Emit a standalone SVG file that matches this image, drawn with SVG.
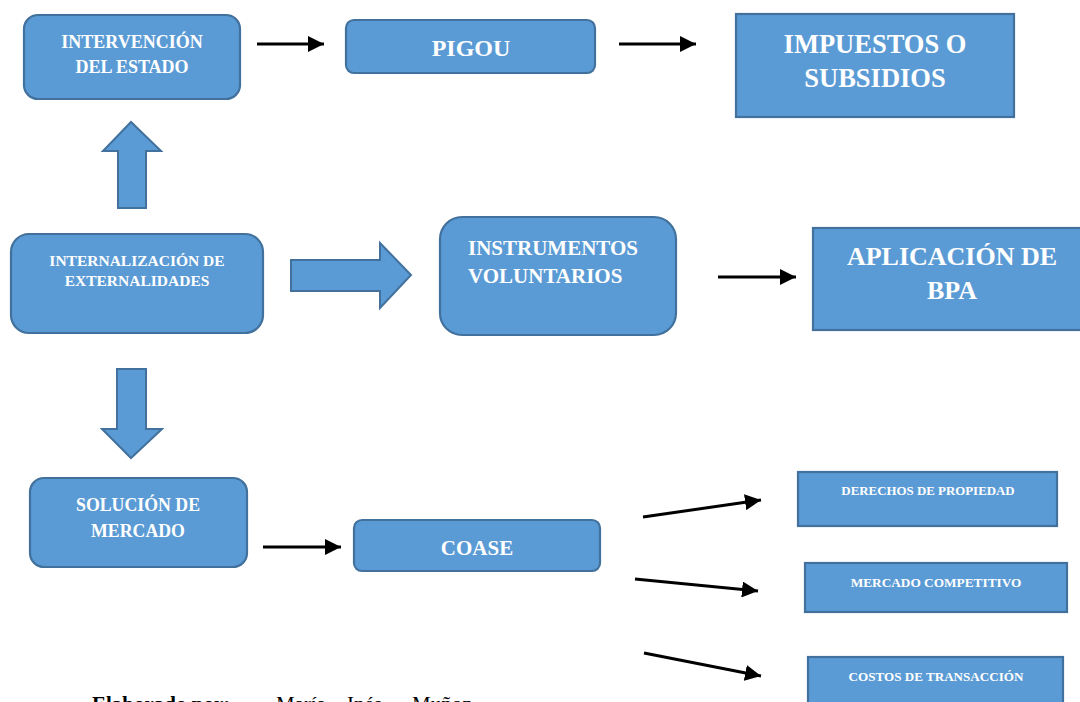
<svg xmlns="http://www.w3.org/2000/svg" width="1080" height="702" viewBox="0 0 1080 702">
<defs>
<style>
.box{fill:#5B9BD5;stroke:#41719C;stroke-width:2.2}
.t{font-family:"Liberation Serif","Times New Roman",serif;font-weight:bold;fill:#FFFFFF;text-anchor:middle}
.tl{font-family:"Liberation Serif","Times New Roman",serif;font-weight:bold;fill:#FFFFFF}
.ln{stroke:#000000;stroke-width:3;fill:none;marker-end:url(#ah)}
.blk{fill:#5B9BD5;stroke:#41719C;stroke-width:2}
.cap{font-family:"Liberation Serif","Times New Roman",serif;fill:#000000;font-size:21px}
</style>
<marker id="ah" markerUnits="userSpaceOnUse" markerWidth="17" markerHeight="16" refX="16" refY="8" orient="auto">
<path d="M0,0 L16,8 L0,16 Z" fill="#000000"/>
</marker>
</defs>
<rect width="1080" height="702" fill="#FFFFFF"/>

<g id="connectors">
<line class="ln" x1="257" y1="44" x2="324" y2="44"/>
<line class="ln" x1="619" y1="44" x2="696" y2="44"/>
<line class="ln" x1="718" y1="277" x2="796" y2="277"/>
<line class="ln" x1="263" y1="547" x2="341" y2="547"/>
<line class="ln" x1="643" y1="517" x2="761" y2="500"/>
<line class="ln" x1="635" y1="579" x2="758" y2="591"/>
<line class="ln" x1="644" y1="653" x2="761" y2="676"/>
<path class="blk" d="M118,208 L118,151 L103,151 L131,122 L161,151 L146,151 L146,208 Z"/>
<path class="blk" d="M117,369 L146,369 L146,429 L162,429 L131,458 L102,429 L117,429 Z"/>
<path class="blk" d="M291,260 L380,260 L380,243 L411,275 L380,308 L380,291 L291,291 Z"/>
</g>

<g id="n-intervencion">
<rect class="box" x="24" y="15" width="216" height="84" rx="14"/>
<text class="t" x="132" y="48" font-size="18">INTERVENCIÓN</text>
<text class="t" x="132" y="73" font-size="18">DEL ESTADO</text>
</g>
<g id="n-pigou">
<rect class="box" x="346" y="20" width="249" height="53" rx="8"/>
<text class="t" x="471" y="56" font-size="24">PIGOU</text>
</g>
<g id="n-impuestos">
<rect class="box" x="736" y="14" width="278" height="103"/>
<text class="t" x="875" y="53" font-size="26.5">IMPUESTOS O</text>
<text class="t" x="875" y="87" font-size="26.5">SUBSIDIOS</text>
</g>
<g id="n-internalizacion">
<rect class="box" x="11" y="234" width="252" height="99" rx="18"/>
<text class="t" x="137" y="266" font-size="15.5">INTERNALIZACIÓN DE</text>
<text class="t" x="137" y="286" font-size="15.5">EXTERNALIDADES</text>
</g>
<g id="n-instrumentos">
<rect class="box" x="440" y="217" width="236" height="118" rx="22"/>
<text class="tl" x="468" y="255" font-size="21">INSTRUMENTOS</text>
<text class="tl" x="468" y="283" font-size="21">VOLUNTARIOS</text>
</g>
<g id="n-aplicacion">
<rect class="box" x="813" y="228" width="270" height="102"/>
<text class="t" x="952" y="265" font-size="26">APLICACIÓN DE</text>
<text class="t" x="952" y="299" font-size="26">BPA</text>
</g>
<g id="n-solucion">
<rect class="box" x="30" y="478" width="217" height="89" rx="14"/>
<text class="t" x="138" y="511" font-size="17.8">SOLUCIÓN DE</text>
<text class="t" x="138" y="537" font-size="17.8">MERCADO</text>
</g>
<g id="n-coase">
<rect class="box" x="354" y="520" width="246" height="51" rx="8"/>
<text class="t" x="477" y="555" font-size="21">COASE</text>
</g>
<g id="n-derechos">
<rect class="box" x="798" y="472" width="259" height="54"/>
<text class="t" x="928" y="495" font-size="12.9">DERECHOS DE PROPIEDAD</text>
</g>
<g id="n-mercado">
<rect class="box" x="805" y="563" width="262" height="49"/>
<text class="t" x="936" y="587" font-size="13.3">MERCADO COMPETITIVO</text>
</g>
<g id="n-costos">
<rect class="box" x="808" y="657" width="255" height="60"/>
<text class="t" x="936" y="681" font-size="13.1">COSTOS DE TRANSACCIÓN</text>
</g>

<g id="caption">
<text class="cap" x="92" y="711" font-weight="bold">Elaborado por:</text>
<text class="cap" x="276" y="711">María</text>
<text class="cap" x="347" y="711">Inés</text>
<text class="cap" x="412" y="711">Muñoz</text>
</g>
</svg>
